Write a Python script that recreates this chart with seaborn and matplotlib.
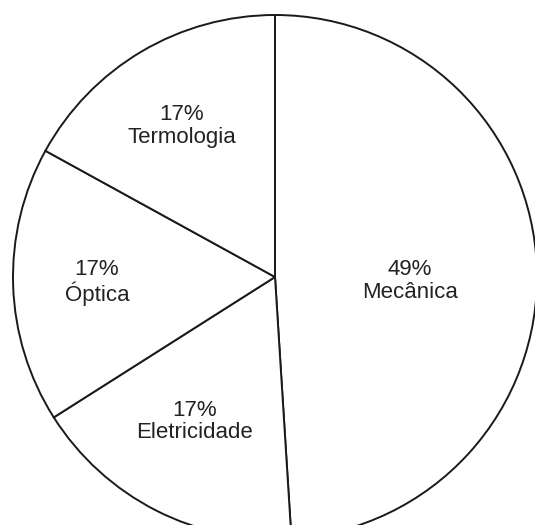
import matplotlib
matplotlib.use("Agg")
import matplotlib.pyplot as plt
import seaborn as sns
import numpy as np

categories = ["Mecânica", "Eletricidade", "Óptica", "Termologia"]
values = [49, 17, 17, 17]

sns.set_theme(style="white")
plt.rcParams['font.family'] = ['Liberation Sans', 'DejaVu Sans']

W, H = 535, 525
fig = plt.figure(figsize=(W / 100, H / 100), dpi=100)
ax = fig.add_axes([0, 0, 1, 1])

cx, cy, R = 275, 277, 262  # pixel layout of the pie
wedges, _ = ax.pie(values, startangle=90, counterclock=False, radius=1,
                   colors=["white"] * len(values),
                   wedgeprops=dict(edgecolor="#1a1a1a", linewidth=1.4))

# label layout: radial distance and angular nudge (degrees) per wedge
label_dist = [0.515, 0.63, 0.68, 0.677]
label_nudge = [-3.5, -2.0, 0.0, 1.0]
for w, cat, v, d, nd in zip(wedges, categories, values, label_dist, label_nudge):
    ang = np.deg2rad((w.theta1 + w.theta2) / 2 + nd)
    ax.text(d * np.cos(ang), d * np.sin(ang), f"{v}%\n{cat}", ha="center", va="center",
            fontsize=16, color="#222222", linespacing=1.1)

ax.set_xlim(-cx / R, (W - cx) / R)
ax.set_ylim(-(H - cy) / R, cy / R)
ax.set_aspect("auto")
ax.axis("off")
fig.savefig("out.png", dpi=100, facecolor="white")
